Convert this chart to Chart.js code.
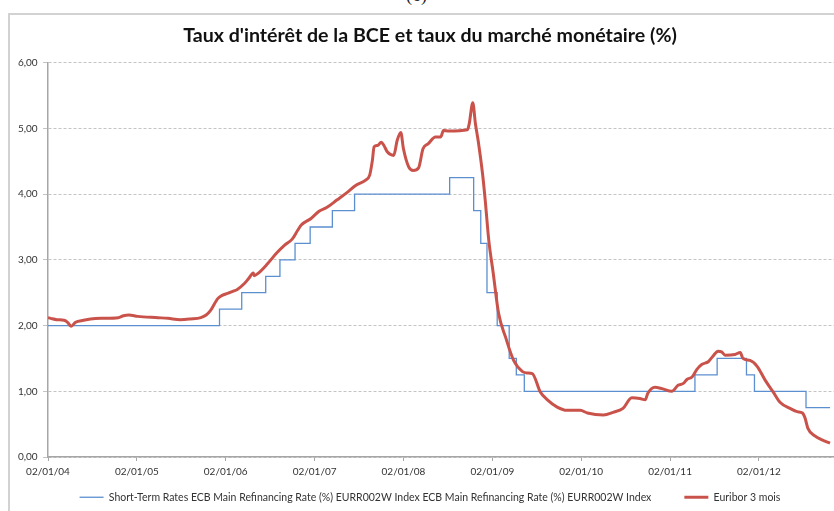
<!DOCTYPE html>
<html>
<head>
<meta charset="utf-8">
<script src="https://cdn.jsdelivr.net/npm/chart.js@4"></script>
<style>
  html, body { margin: 0; padding: 0; background: #fff; }
  #wrap { position: relative; width: 834px; height: 511px; overflow: hidden; }
  #frame { position: absolute; left: 8px; top: 13px; width: 900px; height: 600px;
           border: 2px solid #d2d2d2; box-sizing: border-box; }
  #fig { position: absolute; left: 406px; top: -15px; font: 18px 'Liberation Serif', serif; color: #222; }
  #priceChart { position: absolute; left: 0; top: 0; }
</style>
</head>
<body>
<div id="wrap">
  <div id="frame"></div>
  <div id="fig">(6)</div>
  <canvas id="priceChart" width="834" height="511"></canvas>
</div>
<script>
// ECB main refinancing rate (step changes), x in fractional years
const refiDates = [2004.0, 2005.93, 2006.18, 2006.45, 2006.61, 2006.78, 2006.95, 2007.20, 2007.45,
  2008.52, 2008.79, 2008.87, 2008.94, 2009.055, 2009.19, 2009.27, 2009.36,
  2011.28, 2011.53, 2011.86, 2011.95, 2012.53, 2012.80];
const refiRates = [2.00, 2.25, 2.50, 2.75, 3.00, 3.25, 3.50, 3.75, 4.00,
  4.25, 3.75, 3.25, 2.50, 2.00, 1.50, 1.25, 1.00,
  1.25, 1.50, 1.25, 1.00, 0.75, 0.75];

// Euribor 3 mois
const euriborDates = [2004.00, 2004.03, 2004.10, 2004.18, 2004.22, 2004.26, 2004.31, 2004.40, 2004.48, 2004.60,
  2004.79, 2004.85, 2004.91, 2005.01, 2005.24, 2005.35, 2005.49, 2005.60, 2005.72, 2005.78,
  2005.83, 2005.91, 2005.96, 2006.02, 2006.08, 2006.13, 2006.21, 2006.26, 2006.31, 2006.32,
  2006.36, 2006.47, 2006.57, 2006.66, 2006.75, 2006.81, 2006.85, 2006.96, 2007.05, 2007.14,
  2007.25, 2007.36, 2007.47, 2007.57, 2007.62, 2007.65, 2007.67, 2007.71, 2007.75, 2007.78,
  2007.82, 2007.89, 2007.93, 2007.97, 2008.00, 2008.06, 2008.11, 2008.17, 2008.22, 2008.28,
  2008.36, 2008.42, 2008.45, 2008.51, 2008.72, 2008.74, 2008.78, 2008.81, 2008.84, 2008.89,
  2008.92, 2008.96, 2009.01, 2009.07, 2009.15, 2009.24, 2009.34, 2009.39, 2009.45, 2009.54,
  2009.62, 2009.73, 2009.84, 2009.99, 2010.07, 2010.25, 2010.36, 2010.47, 2010.57, 2010.66,
  2010.72, 2010.75, 2010.83, 2010.91, 2011.02, 2011.09, 2011.15, 2011.19, 2011.25, 2011.30,
  2011.36, 2011.43, 2011.48, 2011.54, 2011.58, 2011.62, 2011.73, 2011.79, 2011.82, 2011.90,
  2011.98, 2012.07, 2012.16, 2012.24, 2012.35, 2012.43, 2012.49, 2012.52, 2012.55, 2012.63,
  2012.71, 2012.80];
const euriborRates = [2.12, 2.11, 2.09, 2.08, 2.05, 1.99, 2.05, 2.08, 2.10, 2.11,
  2.12, 2.15, 2.16, 2.14, 2.12, 2.11, 2.09, 2.10, 2.12, 2.16,
  2.23, 2.41, 2.46, 2.49, 2.52, 2.55, 2.64, 2.72, 2.80, 2.76,
  2.79, 2.94, 3.10, 3.22, 3.32, 3.45, 3.53, 3.63, 3.74, 3.80,
  3.91, 4.02, 4.14, 4.21, 4.29, 4.51, 4.72, 4.74, 4.79, 4.74,
  4.64, 4.59, 4.82, 4.94, 4.69, 4.41, 4.36, 4.40, 4.69, 4.77,
  4.87, 4.87, 4.97, 4.96, 4.98, 5.07, 5.39, 5.07, 4.82, 4.31,
  3.91, 3.30, 2.80, 2.19, 1.82, 1.47, 1.30, 1.28, 1.27, 0.99,
  0.87, 0.76, 0.71, 0.71, 0.67, 0.64, 0.68, 0.74, 0.90, 0.89,
  0.87, 0.97, 1.06, 1.04, 1.00, 1.09, 1.12, 1.18, 1.22, 1.33,
  1.41, 1.45, 1.53, 1.61, 1.60, 1.55, 1.56, 1.59, 1.50, 1.47,
  1.38, 1.17, 0.99, 0.83, 0.74, 0.69, 0.67, 0.59, 0.44, 0.32,
  0.26, 0.21];

const yearTicks = [2004, 2005, 2006, 2007, 2008, 2009, 2010, 2011, 2012];

const refiLabel = 'Short-Term Rates ECB Main Refinancing Rate (%) EURR002W Index ECB Main Refinancing Rate (%) EURR002W Index';
const euriborLabel = 'Euribor 3 mois';

const toPoints = (xs, ys) => xs.map((x, i) => ({ x: x, y: ys[i] }));

// legend sits closer to the axis labels than its item spacing would allow
const legendLift = {
    id: 'legendLift',
    afterLayout(chart) {
        const lg = chart.legend;
        lg.top -= 22;
        lg.bottom = chart.height;
    }
};

const ctx = document.getElementById('priceChart').getContext('2d');
const priceChart = new Chart(ctx, {
    type: 'line',
    data: {
        datasets: [{
            label: refiLabel,
            data: toPoints(refiDates, refiRates),
            borderColor: '#5b8fd0',
            borderWidth: 1.3,
            stepped: true,
            pointRadius: 0,
            order: 2
        }, {
            label: euriborLabel,
            data: toPoints(euriborDates, euriborRates),
            borderColor: '#c9534b',
            borderWidth: 3,
            cubicInterpolationMode: 'monotone',
            pointRadius: 0,
            order: 1
        }]
    },
    options: {
        responsive: false,
        animation: false,
        layout: { padding: { left: 26, right: 0, top: 0, bottom: 2 } },
        plugins: {
            title: {
                display: true,
                text: "Taux d'intérêt de la BCE et taux du marché monétaire (%)",
                color: '#111',
                font: { family: 'Lato', size: 19.6, weight: 'bold' },
                padding: { top: 23.7, bottom: 15.5 }
            },
            legend: {
                position: 'bottom',
                maxHeight: 28,
                labels: {
                    usePointStyle: true,
                    pointStyle: 'line',
                    pointStyleWidth: 24,
                    padding: 33,
                    color: '#333',
                    font: { family: 'Lato', size: 10.5 },
                    sort: (a, b) => a.datasetIndex - b.datasetIndex
                }
            },
            tooltip: { enabled: false }
        },
        scales: {
            x: {
                type: 'linear',
                min: 2004,
                max: 2012.845,
                afterFit: s => { s.height = 24; },
                afterBuildTicks: s => { s.ticks = yearTicks.map(v => ({ value: v })); },
                ticks: {
                    autoSkip: false,
                    maxRotation: 0,
                    padding: 5,
                    color: '#333',
                    font: { family: 'Lato', size: 10 },
                    callback: v => '02/01/' + String(v).slice(2)
                },
                grid: { drawOnChartArea: false, drawTicks: true, tickLength: 4, color: '#a6a6a6' },
                border: { color: '#a6a6a6', width: 1.5 }
            },
            y: {
                min: 0,
                max: 6,
                afterFit: s => { s.width = 22; },
                ticks: {
                    stepSize: 1,
                    mirror: true,
                    crossAlign: 'near',
                    padding: -30,
                    color: '#333',
                    font: { family: 'Lato', size: 10 },
                    callback: v => v.toFixed(2).replace('.', ',')
                },
                grid: { color: '#c4c4c4', tickLength: 5, lineWidth: 1 },
                border: { color: '#a6a6a6', width: 1.5, dash: [3, 2] }
            }
        }
    },
    plugins: [legendLift]
});
</script>
</body>
</html>
